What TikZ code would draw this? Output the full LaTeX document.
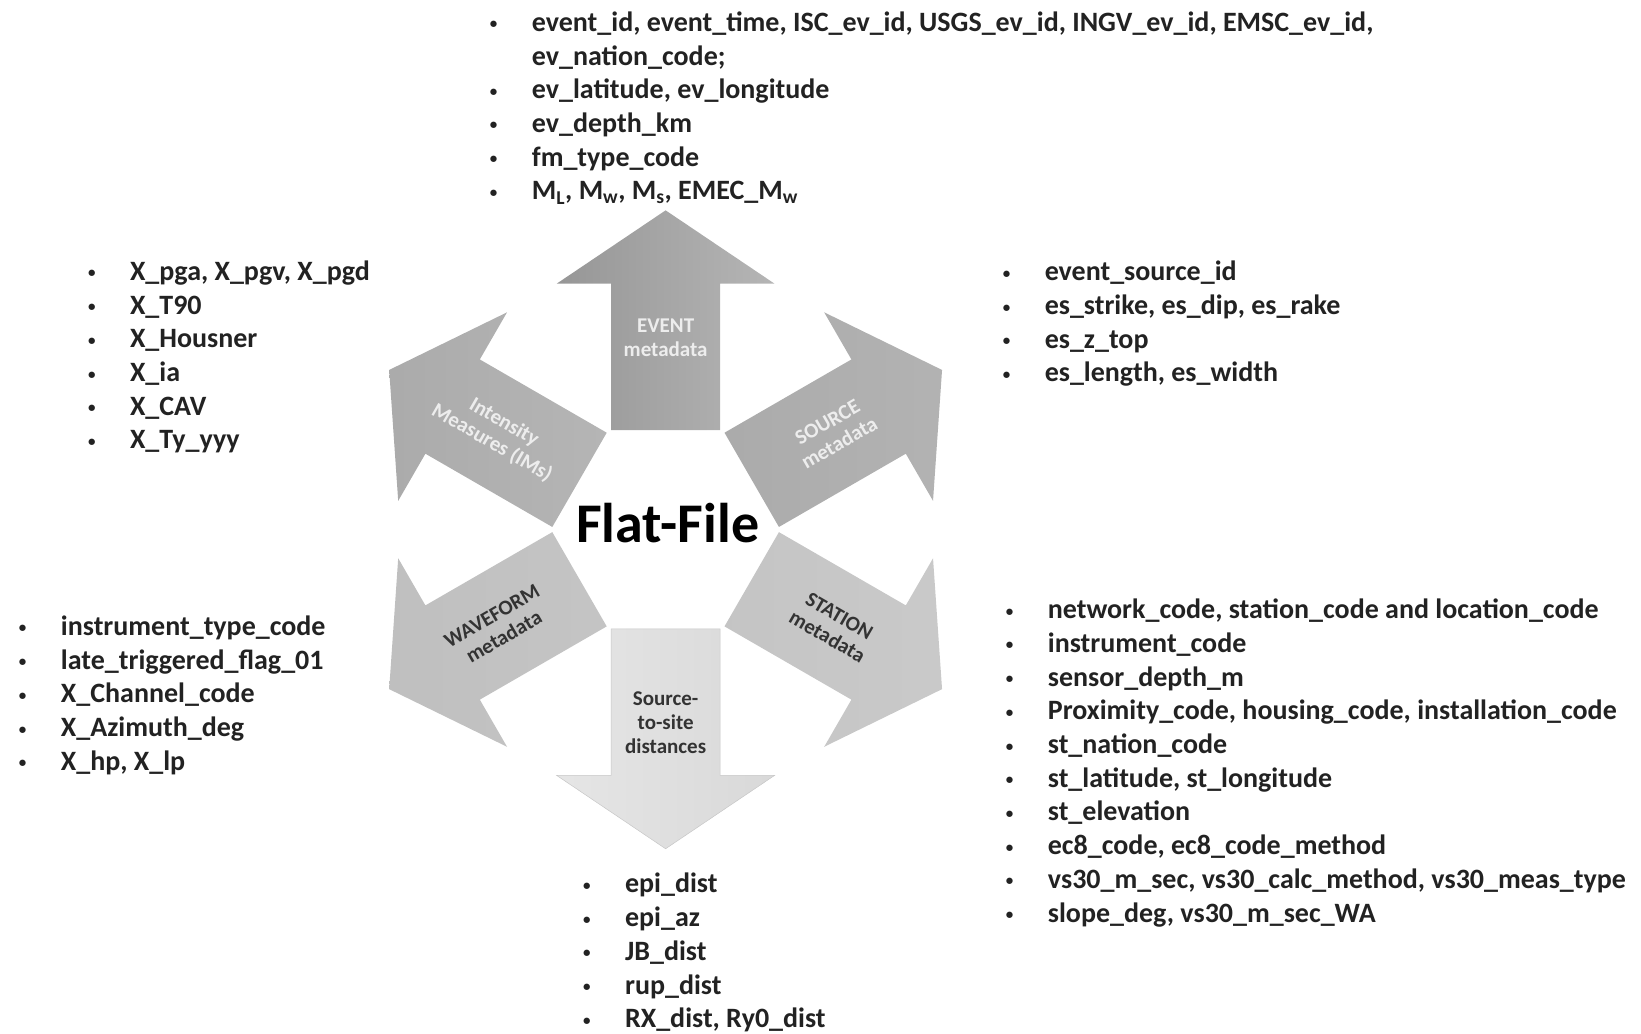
\documentclass[tikz,border=0pt]{standalone}
\usepackage{fontspec}
\setmainfont{Carlito}
\usetikzlibrary{calc}
\newcommand\hexarrowpath{(95,-52) -- (235,-52) -- (235,-104) -- (305,0) -- (235,104) -- (235,52) -- (95,52) -- cycle}
\newcommand\itm{\makebox[43pt][l]{\hspace*{1pt}\raisebox{2.5pt}{\fontsize{15}{15}\selectfont •}}}
\newcommand\itmgap{\hspace*{43pt}}
\definecolor{txt}{HTML}{222222}
\definecolor{lbllight}{HTML}{EDEDED}
\definecolor{lbldark}{HTML}{333333}
\begin{document}
\begin{tikzpicture}[x=1.0466pt,y=1.0466pt,
  lst/.style={anchor=base west, align=left, inner sep=0pt,
    font=\fontsize{28}{33.7}\selectfont\bfseries, text=txt},
  albl/.style={align=center, inner sep=0pt,
    font=\fontsize{21}{24}\selectfont\bfseries}
]
\useasboundingbox (0,0) rectangle (1568,988);
\coordinate (C) at (636,482);

% arrows
\begin{scope}[shift={(C)}, rotate=90]
  \shade[left color=black!41, right color=black!29] \hexarrowpath;
\end{scope}
\begin{scope}[shift={(C)}, rotate=150]
  \shade[left color=black!33, right color=black!29] \hexarrowpath;
\end{scope}
\begin{scope}[shift={(C)}, rotate=30]
  \shade[left color=black!33, right color=black!30] \hexarrowpath;
\end{scope}
\begin{scope}[shift={(C)}, rotate=210]
  \shade[left color=black!25, right color=black!23] \hexarrowpath;
\end{scope}
\begin{scope}[shift={(C)}, rotate=-30]
  \shade[left color=black!23, right color=black!21] \hexarrowpath;
\end{scope}
\begin{scope}[shift={(C)}, rotate=270]
  \shade[left color=black!10, right color=black!15] \hexarrowpath;
  \draw[black!22, line width=0.5pt] \hexarrowpath;
\end{scope}

% arrow labels
\node[albl, text=lbllight] (evt) at ($(C)+(90:183)$) {EVENT\\metadata};
\node[albl, text=lbllight, rotate=-30] (ims) at ($(C)+(150:185)$) {Intensity\\Measures (IMs)};
\node[albl, text=lbllight, rotate=30] (src) at ($(C)+(30:185)$) {SOURCE\\metadata};
\node[albl, text=lbldark, rotate=30] (wf) at ($(C)+(210:185)$) {WAVEFORM\\metadata};
\node[albl, text=lbldark, rotate=-30] (st) at ($(C)+(-30:185)$) {STATION\\metadata};
\node[albl, text=lbldark] (dist) at ($(C)+(270:185)$) {Source-\\to-site\\distances};

% centre title
\node[font=\fontsize{56}{60}\selectfont\bfseries, text=black] (ff) at (638,488) {Flat-File};

% lists (anchor = baseline of the last line)
\node[lst] (levent) at (467,797) {\itm event\_id, event\_time, ISC\_ev\_id, USGS\_ev\_id, INGV\_ev\_id, EMSC\_ev\_id,\\
\itmgap ev\_nation\_code;\\
\itm ev\_latitude, ev\_longitude\\
\itm ev\_depth\_km\\
\itm fm\_type\_code\\
\itm M\textsubscript{L}, M\textsubscript{w}, M\textsubscript{s}, EMEC\_M\textsubscript{w}};

\node[lst] (lims) at (83,559) {\itm X\_pga, X\_pgv, X\_pgd\\
\itm X\_T90\\
\itm X\_Housner\\
\itm X\_ia\\
\itm X\_CAV\\
\itm X\_Ty\_yyy};

\node[lst] (lsrc) at (957,623) {\itm event\_source\_id\\
\itm es\_strike, es\_dip, es\_rake\\
\itm es\_z\_top\\
\itm es\_length, es\_width};

\node[lst] (lwf) at (17,252) {\itm instrument\_type\_code\\
\itm late\_triggered\_flag\_01\\
\itm X\_Channel\_code\\
\itm X\_Azimuth\_deg\\
\itm X\_hp, X\_lp};

\node[lst] (lst) at (960,107) {\itm network\_code, station\_code and location\_code\\
\itm instrument\_code\\
\itm sensor\_depth\_m\\
\itm Proximity\_code, housing\_code, installation\_code\\
\itm st\_nation\_code\\
\itm st\_latitude, st\_longitude\\
\itm st\_elevation\\
\itm ec8\_code, ec8\_code\_method\\
\itm vs30\_m\_sec, vs30\_calc\_method, vs30\_meas\_type\\
\itm slope\_deg, vs30\_m\_sec\_WA};

\node[lst] (ldist) at (556,6) {\itm epi\_dist\\
\itm epi\_az\\
\itm JB\_dist\\
\itm rup\_dist\\
\itm RX\_dist, Ry0\_dist};
\end{tikzpicture}
\end{document}
